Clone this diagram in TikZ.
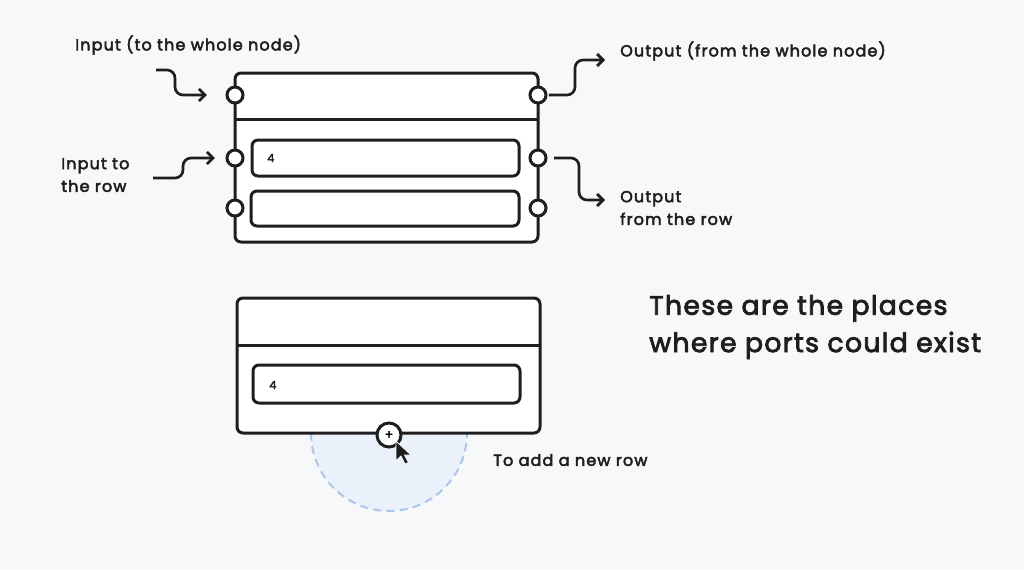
\documentclass[tikz,border=0pt]{standalone}
\usepackage{fontspec}
\setmainfont{Poppins}
\newfontfamily\sketchfont{Poppins}[FakeBold=3]
\usetikzlibrary{arrows.meta}
\definecolor{pagebg}{HTML}{F7F8FA}
\definecolor{ink}{HTML}{1E1E1E}
\definecolor{halofill}{HTML}{EAF1FA}
\definecolor{halodash}{HTML}{A9C6EC}
\tikzset{
  box/.style={draw=ink, line width=2.25pt, rounded corners=4.5pt},
  port/.style={circle, draw=ink, line width=2.25pt, fill=white, minimum size=12pt, inner sep=0pt},
  wire/.style={draw=ink, line width=2pt, rounded corners=6pt, -{Straight Barb[length=4.5pt,width=9pt,line width=2pt]}},
  lbl/.style={anchor=west, inner sep=0.75pt, text=ink, font=\sketchfont\fontsize{12}{17}\selectfont\addfontfeatures{LetterSpace=7}},
}
\begin{document}
\begin{tikzpicture}[x=0.75pt,y=0.75pt,yscale=-1,xscale=1]
			\useasboundingbox (0,0) rectangle (1024,569);
			\fill [pagebg] (0,0) rectangle (1024,569);
			
			%Shape: Node with rows [id:top]
			\draw [box, fill=white] (235,73) rectangle (538,242) ;
			\draw [draw=ink, line width=2.25pt] (235,119) -- (538,119) ;
			\draw [box] (252,140) rectangle (519,176) ;
			\draw [box] (251,191) rectangle (519,226) ;
			\node [lbl, font=\sketchfont\fontsize{8.5}{10}\selectfont] at (266,158) {4};
			
			% Ports
			\node [port] (inA) at (235,95) {};
			\node [port] (inB) at (235,158) {};
			\node [port] (inC) at (235,208) {};
			\node [port] (outA) at (538,95) {};
			\node [port] (outB) at (538,158) {};
			\node [port] (outC) at (538,208) {};
			
			% Arrows
			\coordinate (inAtail) at (156,70);
			\coordinate (inBtail) at (153,178);
			\coordinate (outAhead) at (605,60);
			\coordinate (outBhead) at (605,200);
			\draw [wire, shorten >=14pt] (inAtail) -- ++(19,0) |- (inA) ;
			\draw [wire, shorten >=8pt] (inBtail) -- ++(30,0) |- (inB) ;
			\draw [wire, shorten <=1pt] (outA) -- ++(37,0) |- (outAhead) ;
			\draw [wire, shorten <=5pt] (outB) -- ++(41,0) |- (outBhead) ;
			
			% Text Node
			\node [lbl] (lblinA) at (74,45) {Input (to the whole node)};
			% Text Node
			\node [lbl, align=left] (lblinB) at (60,175) {Input to\\the row};
			% Text Node
			\node [lbl] (lbloutA) at (619,51) {Output (from the whole node)};
			% Text Node
			\node [lbl, align=left] (lbloutB) at (619,208) {Output\\from the row};
			
			%Shape: Arc [id:halo]
			\draw [halodash, fill=halofill, line width=1.5pt, dash pattern={on 6pt off 4pt}] (311,433) arc [start angle=180, end angle=0, radius=78] ;
			
			%Shape: Node with one row [id:bottom]
			\draw [box, fill=white] (237,298) rectangle (540,433) ;
			\draw [draw=ink, line width=2.25pt] (237,345) -- (540,345) ;
			\draw [box] (253,365) rectangle (520,403) ;
			\node [lbl, font=\sketchfont\fontsize{8.5}{10}\selectfont] at (268,385) {4};
			\node [port, minimum size=18pt, font=\sketchfont\fontsize{9.5}{10}\selectfont] (addrow) at (389,435) {+};
			
			%Shape: Cursor [id:cursor]
			\draw [fill=ink, draw=white, line width=0.6pt, line join=round] (396,441) -- (396,461) -- (401,456) -- (405,464) -- (408.5,462.5) -- (404.5,455) -- (411,455) -- cycle ;
			
			% Text Node
			\node [lbl] (lbladd) at (492,460) {To add a new row};
			% Text Node
			\node [lbl, align=left, font=\sketchfont\fontsize{20}{28}\selectfont\addfontfeatures{LetterSpace=5}] (note) at (648,327) {These are the places\\where ports could exist};
			
		\end{tikzpicture}
\end{document}
